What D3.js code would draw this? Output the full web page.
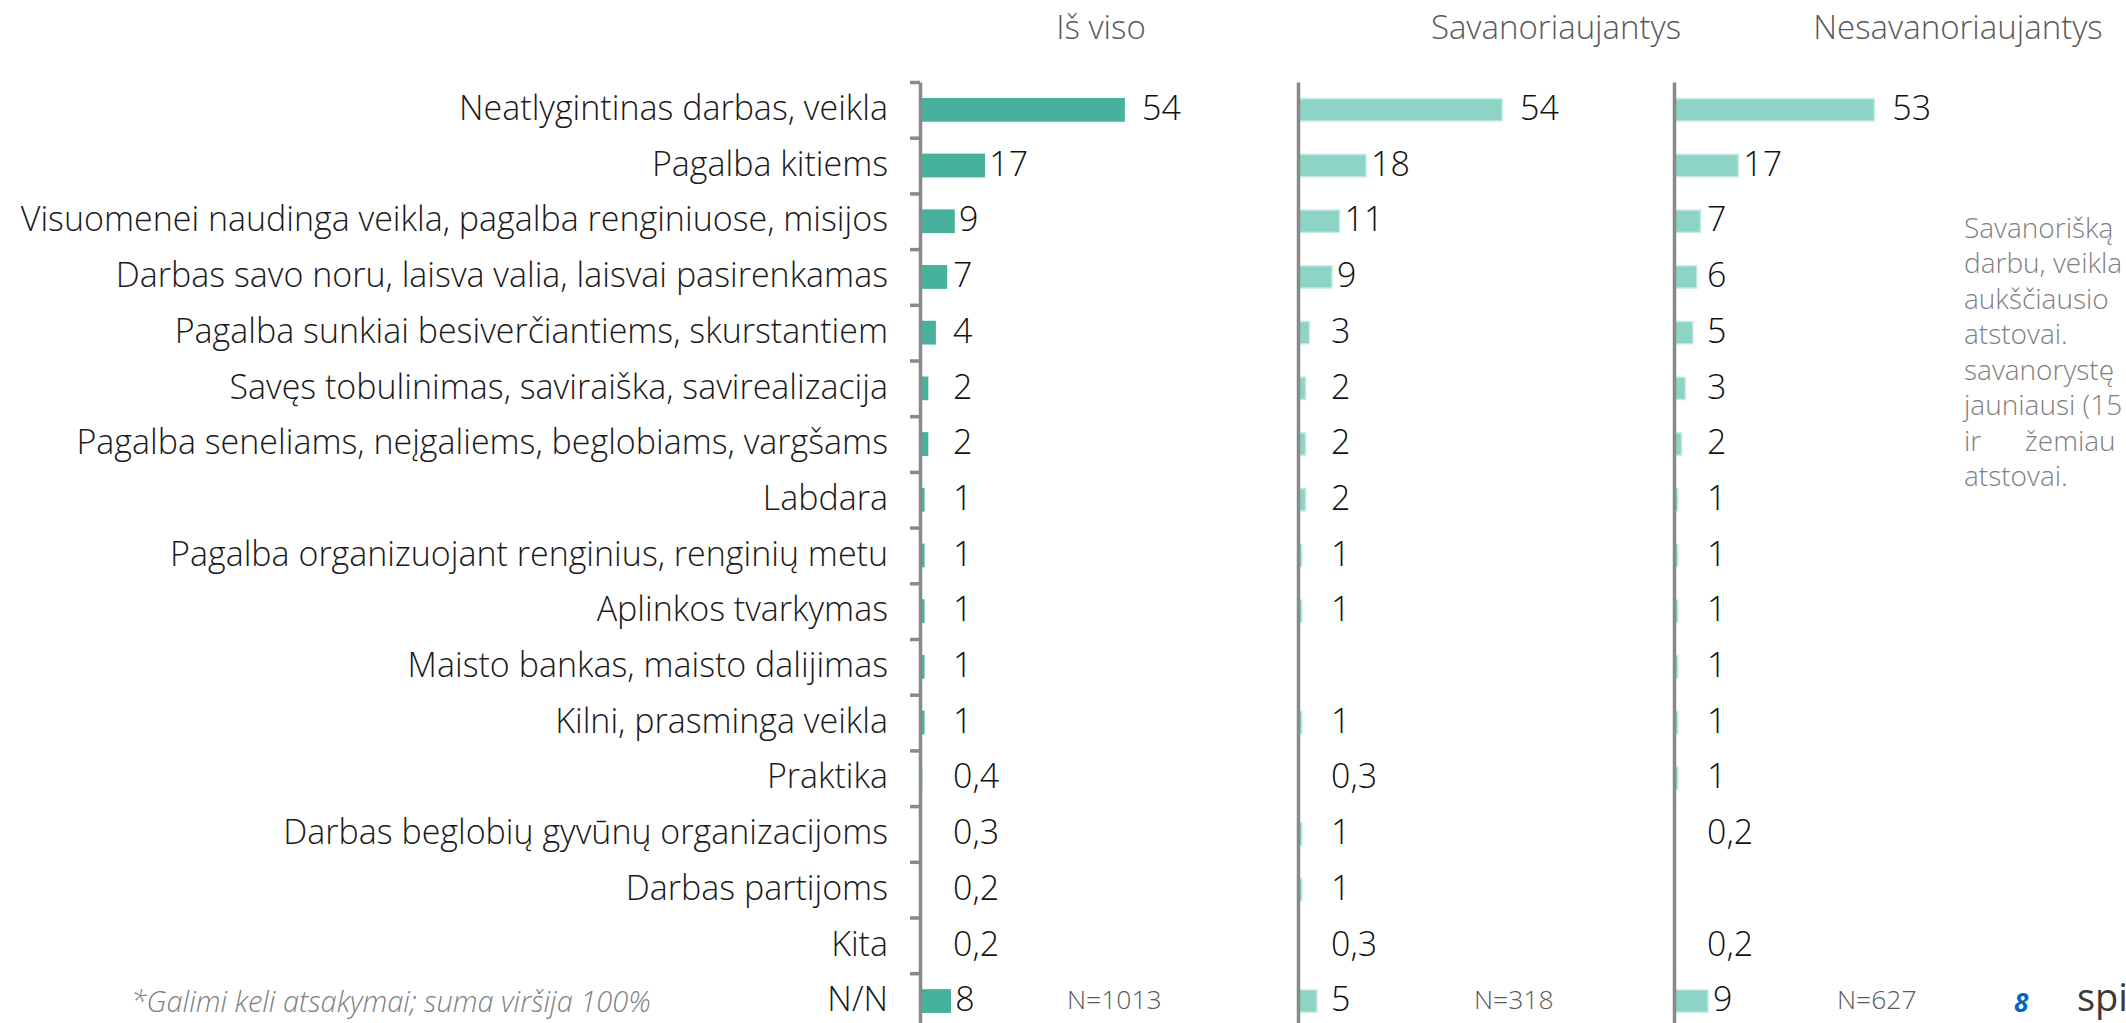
<!DOCTYPE html>
<html>
<head>
<meta charset="utf-8">
<script src="https://cdn.jsdelivr.net/npm/d3@7"></script>
<style>
  body { margin: 0; background: #fff; }
  svg { display: block; font-family: "Open Sans", sans-serif; font-weight: 300; }
</style>
</head>
<body>
<div class="chart"></div>
<script>
// Data
var categories = [
  "Neatlygintinas darbas, veikla",
  "Pagalba kitiems",
  "Visuomenei naudinga veikla, pagalba renginiuose, misijos",
  "Darbas savo noru, laisva valia, laisvai pasirenkamas",
  "Pagalba sunkiai besiverčiantiems, skurstantiem",
  "Savęs tobulinimas, saviraiška, savirealizacija",
  "Pagalba seneliams, neįgaliems, beglobiams, vargšams",
  "Labdara",
  "Pagalba organizuojant renginius, renginių metu",
  "Aplinkos tvarkymas",
  "Maisto bankas, maisto dalijimas",
  "Kilni, prasminga veikla",
  "Praktika",
  "Darbas beglobių gyvūnų organizacijoms",
  "Darbas partijoms",
  "Kita",
  "N/N"
];
var totalValues = [54, 17, 9, 7, 4, 2, 2, 1, 1, 1, 1, 1, 0.4, 0.3, 0.2, 0.2, 8];
var volunteerValues = [54, 18, 11, 9, 3, 2, 2, 2, 1, 1, null, 1, 0.3, 1, 1, 0.3, 5];
var nonVolunteerValues = [53, 17, 7, 6, 5, 3, 2, 1, 1, 1, 1, 1, 1, 0.2, null, 0.2, 9];

var panelTitles = ["Iš viso", "Savanoriaujantys", "Nesavanoriaujantys"];
var sampleSizes = ["N=1013", "N=318", "N=627"];

var sideNote = ["Savanorišką", "darbu, veikla", "aukščiausio", "atstovai.",
  "savanorystę", "jauniausi (15", "ir žemiau", "atstovai."];

var svgWidth = 2126;
var svgHeight = 1023;

var svg = d3.select(".chart")
  .append("svg")
  .attr("width", svgWidth)
  .attr("height", svgHeight);

// shared scales
var y = d3.scaleBand()
  .domain(categories)
  .range([82, 82 + 17 * 55.7])
  .paddingInner(0.6)
  .paddingOuter(0.3);

var x = d3.scaleLinear()
  .domain([0, 100])
  .range([0, 378]);

var fmt = function(v) { return String(v).replace(".", ","); };

var panels = [
  { left: 920, values: totalValues, fill: "#46b29d", stroke: "#46b29d" },
  { left: 1298, values: volunteerValues, fill: "#8ed4c6", stroke: "#c4ebe2" },
  { left: 1674, values: nonVolunteerValues, fill: "#8ed4c6", stroke: "#c4ebe2" }
];

// category labels
svg.append("g").selectAll("text")
  .data(categories)
  .enter()
  .append("text")
  .attr("x", 888)
  .attr("y", d => y(d) + y.bandwidth() / 2)
  .attr("dy", "0.3em")
  .attr("text-anchor", "end")
  .attr("font-size", "34px")
  .attr("fill", "#1a1a1a")
  .text(d => d);

panels.forEach(function(p, i) {
  var g = svg.append("g")
    .attr("transform", `translate(${p.left}, 0)`);

  var rows = categories.map((c, j) => ({ cat: c, v: p.values[j] }))
    .filter(d => d.v !== null);

  g.selectAll("rect")
    .data(rows)
    .enter()
    .append("rect")
    .attr("x", 0)
    .attr("y", d => y(d.cat))
    .attr("width", d => x(d.v))
    .attr("height", y.bandwidth())
    .attr("fill", p.fill)
    .attr("stroke", p.stroke)
    .attr("stroke-width", 1.5);

  // value labels, outside end
  g.selectAll(".val")
    .data(rows)
    .enter()
    .append("text")
    .attr("class", "val")
    .attr("x", d => Math.max(x(d.v) + (d.v >= 50 ? 18 : 5), 33))
    .attr("y", d => y(d.cat) + y.bandwidth() / 2)
    .attr("dy", "0.3em")
    .attr("font-size", "34px")
    .attr("fill", "#111")
    .text(d => fmt(d.v));

  // axis line (ticks on the first panel only)
  var yLin = d3.scaleLinear().domain([0, 17]).range(y.range());
  var axis = d3.axisLeft(yLin)
    .tickValues(i === 0 ? d3.range(0, 17) : [])
    .tickFormat("")
    .tickSize(i === 0 ? 10 : 0)
    .tickSizeOuter(0);
  var ax = g.append("g").call(axis);
  ax.select(".domain").attr("stroke", "#898989").attr("stroke-width", 3.5);
  ax.selectAll(".tick line").attr("stroke", "#898989").attr("stroke-width", 3.5);

  // panel title
  svg.append("text")
    .attr("x", [1101, 1556, 1958][i])
    .attr("y", 27)
    .attr("dy", "0.35em")
    .attr("text-anchor", "middle")
    .attr("font-size", "33px")
    .attr("fill", "#595959")
    .text(panelTitles[i]);

  // sample size
  svg.append("text")
    .attr("x", [1067, 1474, 1837][i])
    .attr("y", 1000)
    .attr("dy", "0.35em")
    .attr("font-size", "26.5px")
    .attr("fill", "#595959")
    .text(sampleSizes[i]);
});

// side note (cut by the slide edge)
var note = svg.append("g").attr("font-size", "28px").attr("fill", "#7f7f7f");
note.selectAll("text")
  .data(sideNote)
  .enter()
  .append("text")
  .attr("x", 1964)
  .attr("y", (d, i) => 228 + i * 35.5)
  .attr("dy", "0.35em")
  .attr("xml:space", "preserve")
  .text(d => d === "ir žemiau" ? "ir      žemiau" : d);

// footnote
svg.append("text")
  .attr("x", 131)
  .attr("y", 1012)
  .attr("font-size", "29px")
  .attr("font-style", "italic")
  .attr("fill", "#7f7f7f")
  .text("*Galimi keli atsakymai; suma viršija 100%");

// page number and logo fragment
svg.append("text")
  .attr("x", 2014)
  .attr("y", 1003)
  .attr("dy", "0.35em")
  .attr("font-size", "26px")
  .attr("font-weight", "700")
  .attr("font-style", "italic")
  .attr("fill", "#0563c1")
  .text("8");

svg.append("text")
  .attr("x", 2077)
  .attr("y", 998)
  .attr("dy", "0.35em")
  .attr("font-size", "38px")
  .attr("font-weight", "400")
  .attr("fill", "#3d3935")
  .text("spi");
</script>
</body>
</html>
